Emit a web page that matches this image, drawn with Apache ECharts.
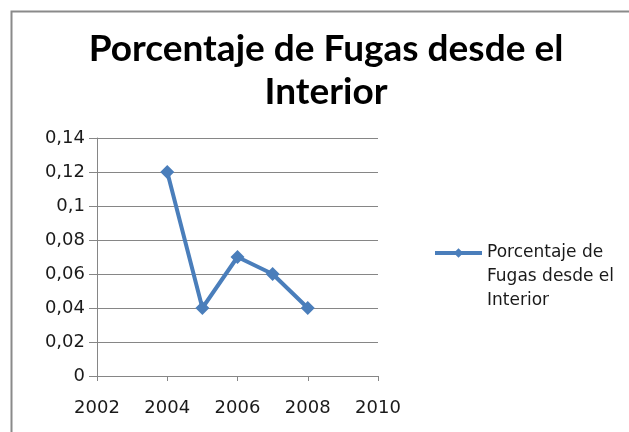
<!DOCTYPE html>
<html><head><meta charset="utf-8">
<script src="https://cdn.jsdelivr.net/npm/echarts@6/dist/echarts.min.js"></script>
<style>html,body{margin:0;padding:0;background:#fff}#c{width:629px;height:432px}</style>
</head><body><div id="c"></div>
<script>
const titleText = 'Porcentaje de Fugas desde el\nInterior';
const seriesName = 'Porcentaje de Fugas desde el Interior';
const legendLines = ['Porcentaje de', 'Fugas desde el', 'Interior'];
const years = [2004, 2005, 2006, 2007, 2008];
const values = [0.12, 0.04, 0.07, 0.06, 0.04];
const xTicks = [2002, 2004, 2006, 2008, 2010];
const yTicks = [0, 0.02, 0.04, 0.06, 0.08, 0.1, 0.12, 0.14];

const chart = echarts.init(document.getElementById('c'), null, {renderer: 'canvas'});
const gridColor = '#868686';
const blue = '#4A7EBB';
const fmt = v => String(Math.round(v * 100) / 100).replace('.', ',');
chart.setOption({
  animation: false,
  backgroundColor: '#fff',
  graphic: [{
    type: 'rect', shape: {x: 11.5, y: 11.5, width: 700, height: 500},
    style: {fill: 'none', stroke: '#8a8a8a', lineWidth: 2}, z: 100
  }],
  title: {
    text: titleText, left: 326, top: 28, padding: 0, textAlign: 'center',
    textStyle: {fontFamily: 'Lato', fontWeight: 'bold', fontSize: 37, lineHeight: 43, color: '#000'}
  },
  legend: {
    left: 433, top: 193, padding: 0, itemWidth: 47, itemHeight: 12,
    formatter: () => ['\u00a0', '\u00a0'].concat(legendLines).join('\n'),
    lineStyle: {width: 4, color: blue},
    itemStyle: {color: blue},
    textStyle: {fontFamily: 'DejaVu Sans', fontSize: 17, lineHeight: 24, color: '#1a1a1a'}
  },
  grid: {left: 97, right: 251, top: 138, bottom: 56, containLabel: false},
  xAxis: {
    type: 'value', min: xTicks[0], max: xTicks[xTicks.length - 1], interval: 2,
    axisLine: {show: true, lineStyle: {color: gridColor, width: 1}},
    axisTick: {show: true, length: 5, lineStyle: {color: gridColor}},
    splitLine: {show: false},
    axisLabel: {margin: 23, fontFamily: 'DejaVu Sans', fontSize: 18, color: '#1a1a1a',
      formatter: v => xTicks.includes(v) ? String(v) : ''}
  },
  yAxis: {
    type: 'value', min: yTicks[0], max: yTicks[yTicks.length - 1], interval: 0.02,
    axisLine: {show: true, lineStyle: {color: gridColor, width: 1}},
    axisTick: {show: true, length: 8, lineStyle: {color: gridColor}},
    splitLine: {show: true, lineStyle: {color: gridColor, width: 1}},
    axisLabel: {margin: 12, fontFamily: 'DejaVu Sans', fontSize: 18, color: '#1a1a1a', formatter: fmt}
  },
  series: [{
    name: seriesName, type: 'line',
    data: years.map((y, i) => [y, values[i]]),
    symbol: 'diamond', symbolSize: 14,
    lineStyle: {color: blue, width: 4},
    itemStyle: {color: blue}
  }]
});
</script></body></html>
